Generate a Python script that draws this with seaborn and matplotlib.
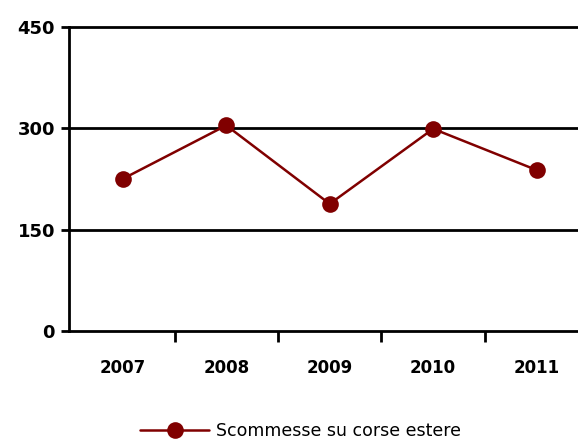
import matplotlib
matplotlib.use("Agg")
import matplotlib.pyplot as plt
import seaborn as sns
import pandas as pd
from matplotlib.ticker import FixedLocator, NullFormatter

years = ["2007", "2008", "2009", "2010", "2011"]
values = [225, 304, 188, 299, 238]
series_name = "Scommesse su corse estere"
y_ticks = [0, 150, 300, 450]

df = pd.DataFrame({"Anno": years, "Valore": values, "Serie": series_name})

sns.set_style("white")
plt.rcParams["font.family"] = ["DejaVu Sans"]
plt.rcParams["text.color"] = "black"
plt.rcParams["xtick.color"] = "black"
plt.rcParams["ytick.color"] = "black"

fig = plt.figure(figsize=(5.78, 4.41), dpi=100)
ax = fig.add_axes([69 / 578, 110 / 441, 1 - 69 / 578, 304.3 / 441])

color = "#800000"
sns.lineplot(data=df, x="Anno", y="Valore", hue="Serie", palette=[color],
             marker="o", markersize=12, markeredgewidth=0, linewidth=1.8,
             ax=ax, legend=True)

ax.set_ylim(0, 450)
ax.set_xlim(-0.52, 4.40)
ax.set_yticks(y_ticks)
ax.set_yticklabels([str(v) for v in y_ticks], fontsize=13, fontweight="bold", color="black")
for v in y_ticks[1:]:
    ax.axhline(v, color="black", linewidth=2, zorder=0, clip_on=False)

ax.xaxis.set_major_locator(FixedLocator(range(len(years))))
ax.set_xticklabels(years, fontsize=12, fontweight="bold", color="black")
ax.tick_params(axis="x", which="major", length=0, pad=20)
ax.xaxis.set_minor_locator(FixedLocator([0.5, 1.5, 2.5, 3.5]))
ax.xaxis.set_minor_formatter(NullFormatter())
ax.tick_params(axis="x", which="minor", length=8, width=2, color="black", direction="out", bottom=True)
ax.tick_params(axis="y", length=6, width=2, color="black", direction="out", left=True, pad=4)

ax.set_xlabel("")
ax.set_ylabel("")
for s in ["top", "right"]:
    ax.spines[s].set_visible(False)
for s in ["left", "bottom"]:
    ax.spines[s].set_color("black")
    ax.spines[s].set_linewidth(2)

handles, labels = ax.get_legend_handles_labels()
leg = ax.legend(handles, labels, loc="center", bbox_to_anchor=(0.52, 0.022),
                bbox_transform=fig.transFigure, frameon=False, fontsize=12.5,
                handlelength=4.0, handletextpad=0.4)
for t in leg.get_texts():
    t.set_color("black")

fig.savefig("out.png", dpi=100)
